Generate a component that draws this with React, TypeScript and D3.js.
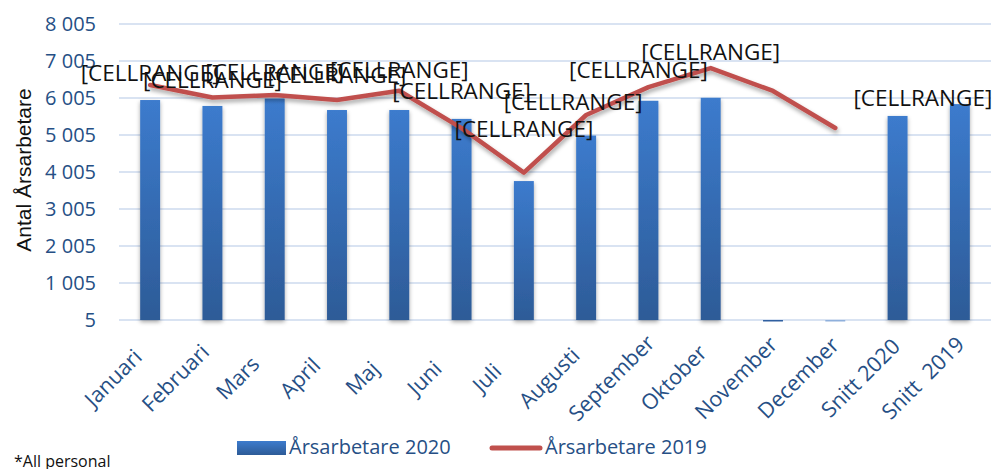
import React from "react";
import * as d3 from "d3";

const categories = ["Januari", "Februari", "Mars", "April", "Maj", "Juni", "Juli", "Augusti", "September", "Oktober", "November", "December", "Snitt 2020", "Snitt  2019"];
const bars2020 = [5950, 5790, 5990, 5680, 5680, 5440, 3760, 4990, 5930, 6010, 0, 0, 5520, 5840];
const line2019: (number | null)[] = [6355, 6020, 6085, 5950, 6200, 5190, 3990, 5545, 6300, 6815, 6195, 5195, null, null];
const yTicks = [5, 1005, 2005, 3005, 4005, 5005, 6005, 7005, 8005];
const seriesNames = ["Årsarbetare 2020", "Årsarbetare 2019"];
const labelText = "[CELLRANGE]";
// layout: label baseline offset (px above the line point) per category
const labelLift = [4, 9, 15, 17, 13, 29, 36, 5, 9, 8];
const labelShiftX = [0, 0, 0, 0, 0, 0, 0, -13, -10, 0];

const W = 994;
const H = 469;
const left = 119;
const right = 991;
const top = 24;
const bottom = 320;

export default function App() {
  const x = d3.scaleBand<string>().domain(categories).range([left, right]).padding(0);
  const y = d3.scaleLinear().domain([5, 8005]).range([bottom, top]);
  const fmt = d3.formatLocale({ decimal: ",", thousands: " ", grouping: [3], currency: ["", ""] }).format(",d");
  const bw = x.bandwidth() * 0.32;
  const cx = (c: string) => (x(c) as number) + x.bandwidth() / 2;

  const linePts = categories
    .map((c, i) => ({ c, v: line2019[i] }))
    .filter((d) => d.v !== null) as { c: string; v: number }[];
  const lineGen = d3
    .line<{ c: string; v: number }>()
    .x((d) => cx(d.c))
    .y((d) => y(d.v));

  const blue = "#264f85";
  const font = "'Open Sans', sans-serif";

  return (
    <svg width={W} height={H} style={{ position: "absolute", left: 0, top: 0, background: "#fff" }}>
      <defs>
        <linearGradient id="barGrad" x1="0" y1="0" x2="0" y2="1">
          <stop offset="0" stopColor="#3c7bcd" />
          <stop offset="1" stopColor="#2d5b97" />
        </linearGradient>
        <filter id="shadow" x="-30%" y="-10%" width="160%" height="130%">
          <feDropShadow dx="0" dy="2" stdDeviation="2" floodColor="#000" floodOpacity="0.35" />
        </filter>
        <filter id="lshadow" x="-10%" y="-10%" width="120%" height="130%">
          <feDropShadow dx="1" dy="3" stdDeviation="2" floodColor="#000" floodOpacity="0.35" />
        </filter>
      </defs>

      {yTicks.map((t) => (
        <g key={t}>
          <line x1={left} x2={right} y1={y(t)} y2={y(t)} stroke="#d9e3f2" strokeWidth={2} />
          <text x={96} y={y(t)} dy="0.35em" textAnchor="end" fontFamily={font} fontSize={20} fill={blue}>
            {fmt(t)}
          </text>
        </g>
      ))}

      <text
        transform={`translate(24,170) rotate(-90)`}
        textAnchor="middle"
        dy="0.35em"
        fontFamily="'Liberation Sans', Arial, sans-serif"
        fontSize={21}
        fill="#111"
      >
        Antal Årsarbetare
      </text>

      {categories.map((c, i) => {
        const v = bars2020[i];
        const y0 = y(5);
        const y1 = y(v);
        const h = Math.max(Math.abs(y1 - y0), 1.5);
        const yy = v >= 5 ? y1 : y0;
        return (
          <rect
            key={c}
            x={cx(c) - bw / 2}
            y={yy}
            width={bw}
            height={h}
            fill={v >= 5 ? "url(#barGrad)" : i === 10 ? "#2f5fa0" : "#8fb0dc"}
            filter={v >= 5 ? "url(#shadow)" : undefined}
          />
        );
      })}

      <path
        d={lineGen(linePts) || ""}
        fill="none"
        stroke="#c0504d"
        strokeWidth={4.5}
        strokeLinejoin="round"
        strokeLinecap="round"
        filter="url(#lshadow)"
      />

      {linePts.map((d, i) =>
        i < labelLift.length ? (
          <text
            key={d.c}
            x={cx(d.c) + labelShiftX[i]}
            y={y(d.v) - labelLift[i]}
            textAnchor="middle"
            fontFamily={font}
            fontSize={22.5}
            fill="#111"
          >
            {labelText}
          </text>
        ) : null
      )}
      <text
        x={cx(categories[13]) - 37}
        y={y(bars2020[13]) + 2}
        textAnchor="middle"
        fontFamily={font}
        fontSize={22.5}
        fill="#111"
      >
        {labelText}
      </text>

      {categories.map((c) => (
        <text
          key={c}
          transform={`translate(${cx(c) - 37},378) rotate(-45)`}
          textAnchor="middle"
          dy="0.35em"
          fontFamily={font}
          fontSize={21.5}
          fill={blue}
          style={{ whiteSpace: "pre" }}
        >
          {c}
        </text>
      ))}

      <rect x={237} y={441} width={49} height={14} fill="url(#barGrad)" />
      <text x={289} y={454} fontFamily={font} fontSize={20} fill={blue}>
        {seriesNames[0]}
      </text>
      <line x1={492} x2={540} y1={448} y2={448} stroke="#c0504d" strokeWidth={5} strokeLinecap="round" />
      <text x={545} y={454} fontFamily={font} fontSize={20} fill={blue}>
        {seriesNames[1]}
      </text>

      <text x={14} y={467} fontFamily={font} fontSize={16} fill="#111">
        *All personal
      </text>
    </svg>
  );
}
